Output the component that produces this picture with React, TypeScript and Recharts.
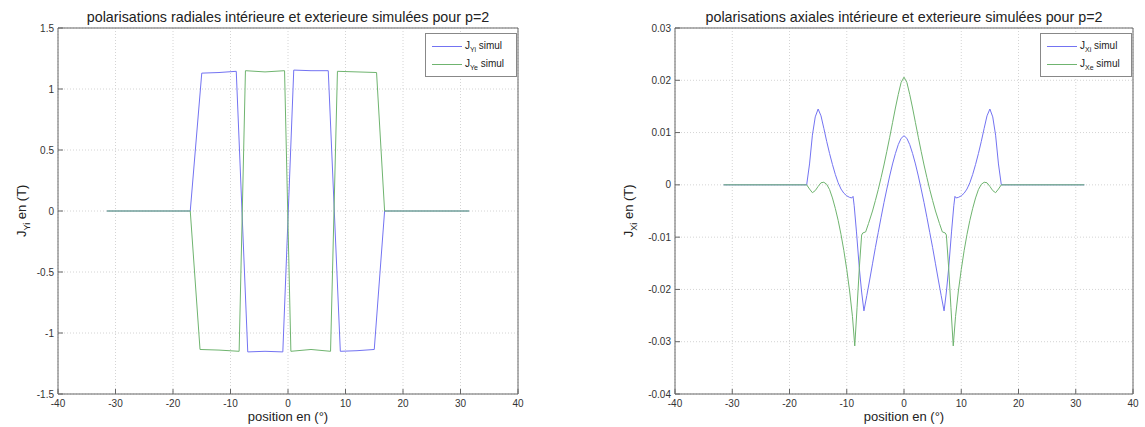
import { CartesianGrid, Line, LineChart, XAxis, YAxis } from "recharts";

// radial polarisation (left plot)
const jyiPos = [-31.5, -17, -15, -12, -9, -7, -4, -0.9, 1, 4, 7, 9.1, 12, 15, 16.8, 31.5];
const jyiVal = [0, 0, 1.13, 1.135, 1.145, -1.155, -1.15, -1.155, 1.155, 1.15, 1.15, -1.15, -1.145, -1.135, 0, 0];
const jyePos = [-31.5, -17, -15.3, -12, -8.5, -7.4, -4, -0.6, 0.5, 4, 7.4, 8.6, 12, 15.4, 16.8, 31.5];
const jyeVal = [0, 0, -1.135, -1.14, -1.15, 1.15, 1.14, 1.15, -1.15, -1.135, -1.15, 1.145, 1.14, 1.135, 0, 0];

// axial polarisation (right plot)
const jxiPos = [
  -31.5, -17, -16.5, -16, -15.5, -15, -14.5, -14, -13.5, -13, -12.5, -12, -11.5, -11, -10.5, -10, -9.5, -9.1,
  -8.9, -8.7, -8.3, -7.8, -7.4, -7, -6.5, -6, -5.5, -5, -4.5, -4, -3.5, -3, -2.5, -2, -1.5, -1, -0.5, 0,
  0.5, 1, 1.5, 2, 2.5, 3, 3.5, 4, 4.5, 5, 5.5, 6, 6.5, 7, 7.4, 7.8, 8.3, 8.7, 8.9, 9.1, 9.5, 10, 10.5, 11,
  11.5, 12, 12.5, 13, 13.5, 14, 14.5, 15, 15.5, 16, 16.5, 17, 31.5,
];
const jxiVal = [
  0, 0, 0.004, 0.0095, 0.013, 0.0145, 0.0132, 0.0108, 0.0083, 0.006, 0.0039, 0.002, 0.0004, -0.0008, -0.0016,
  -0.0021, -0.0024, -0.0025, -0.0022, -0.004, -0.009, -0.016, -0.0205, -0.0241, -0.0212, -0.0182, -0.0151,
  -0.012, -0.0091, -0.0062, -0.0034, -0.0008, 0.0017, 0.004, 0.006, 0.0077, 0.0089, 0.0094,
  0.0089, 0.0077, 0.006, 0.004, 0.0017, -0.0008, -0.0034, -0.0062, -0.0091, -0.012, -0.0151, -0.0182, -0.0212,
  -0.0241, -0.0205, -0.016, -0.009, -0.004, -0.0022, -0.0025, -0.0024, -0.0021, -0.0016, -0.0008, 0.0004,
  0.002, 0.0039, 0.006, 0.0083, 0.0108, 0.0132, 0.0145, 0.013, 0.0095, 0.004, 0, 0,
];
const jxePos = [
  -31.5, -17, -16.5, -16, -15.5, -15, -14.5, -14, -13.5, -13, -12.5, -12, -11.5, -11, -10.5, -10, -9.5, -9,
  -8.6, -8.2, -7.8, -7.4, -7.2, -6.7, -6.2, -5.5, -5, -4.5, -4, -3.5, -3, -2.5, -2, -1.5, -1, -0.5, 0,
  0.5, 1, 1.5, 2, 2.5, 3, 3.5, 4, 4.5, 5, 5.5, 6.2, 6.7, 7.2, 7.4, 7.8, 8.2, 8.6, 9, 9.5, 10, 10.5, 11,
  11.5, 12, 12.5, 13, 13.5, 14, 14.5, 15, 15.5, 16, 16.5, 17, 31.5,
];
const jxeVal = [
  0, 0, -0.0008, -0.0015, -0.0011, -0.0003, 0.0004, 0.0005, 0.0001, -0.0009, -0.0025, -0.0045, -0.0068,
  -0.0095, -0.0126, -0.0162, -0.0203, -0.0252, -0.0308, -0.0235, -0.0158, -0.0096, -0.0092, -0.009, -0.0074,
  -0.005, -0.003, -0.0009, 0.0014, 0.0038, 0.0064, 0.0091, 0.0119, 0.0147, 0.0173, 0.0196, 0.0206,
  0.0196, 0.0173, 0.0147, 0.0119, 0.0091, 0.0064, 0.0038, 0.0014, -0.0009, -0.003, -0.005, -0.0074, -0.009,
  -0.0092, -0.0096, -0.0158, -0.0235, -0.0308, -0.0252, -0.0203, -0.0162, -0.0126, -0.0095, -0.0068, -0.0045,
  -0.0025, -0.0009, 0.0001, 0.0005, 0.0004, -0.0003, -0.0011, -0.0015, -0.0008, 0, 0,
];

const xTicks = [-40, -30, -20, -10, 0, 10, 20, 30, 40];
const yTicksRadial = [-1.5, -1, -0.5, 0, 0.5, 1, 1.5];
const yTicksAxial = [-0.04, -0.03, -0.02, -0.01, 0, 0.01, 0.02, 0.03];

const BLUE = "#7373f2";
const GREEN = "#6fb46f";
const AXIS = "#666";
const FONT = "'Liberation Sans', Arial, sans-serif";

const zip = (p: number[], v: number[]) => p.map((x, i) => ({ p: x, v: v[i] }));

// MATLAB-like inward ticks; with tickSize/tickMargin 0 the x/y given is on the axis line
const TickBottom = (props: any) => {
  const { x, y, payload } = props;
  return (
    <g>
      <line x1={x} x2={x} y1={y} y2={y - 5} stroke={AXIS} />
      <text x={x} y={y + 13} textAnchor="middle" fontSize={10} fill="#333" fontFamily={FONT}>
        {payload.value}
      </text>
    </g>
  );
};
const TickLeft = (props: any) => {
  const { x, y, payload } = props;
  return (
    <g>
      <line x1={x} x2={x + 5} y1={y} y2={y} stroke={AXIS} />
      <text x={x - 4} y={y + 3.5} textAnchor="end" fontSize={10} fill="#333" fontFamily={FONT}>
        {payload.value}
      </text>
    </g>
  );
};
const TickTop = (props: any) => <line x1={props.x} x2={props.x} y1={props.y} y2={props.y + 5} stroke={AXIS} />;
const TickRight = (props: any) => <line x1={props.x} x2={props.x - 5} y1={props.y} y2={props.y} stroke={AXIS} />;

function Panel(props: {
  left: number;
  width: number;
  plotLeft: number;
  plotRight: number;
  yLabelX: number;
  domain: [number, number];
  yTicks: number[];
  series: { data: { p: number; v: number }[]; color: string }[];
  title: string;
  yName: string;
  legend: string[];
}) {
  const { left, width, plotLeft, plotRight, yLabelX, domain, yTicks, series, title, yName, legend } = props;
  const top = 28;
  const bottom = 394;
  const cx = (plotLeft + plotRight) / 2;
  return (
    <div style={{ position: "absolute", left, top: 0, width, height: 427, fontFamily: FONT }}>
      <LineChart
        width={width}
        height={427}
        margin={{ top: top - 1, left: plotLeft - 40, right: width - plotRight - 1, bottom: 427 - bottom - 20 }}
      >
        <CartesianGrid stroke="#d4d4d4" strokeDasharray="1 2" />
        <XAxis
          dataKey="p"
          type="number"
          domain={[-40, 40]}
          ticks={xTicks}
          interval={0}
          height={20}
          tickSize={0}
          tickMargin={0}
          tickLine={false}
          stroke={AXIS}
          tick={<TickBottom />}
        />
        <XAxis
          xAxisId="top"
          orientation="top"
          type="number"
          domain={[-40, 40]}
          ticks={xTicks}
          interval={0}
          height={1}
          tickSize={0}
          tickMargin={0}
          tickLine={false}
          stroke={AXIS}
          tick={<TickTop />}
        />
        <YAxis
          type="number"
          domain={domain}
          ticks={yTicks}
          interval={0}
          width={40}
          tickSize={0}
          tickMargin={0}
          tickLine={false}
          stroke={AXIS}
          tick={<TickLeft />}
        />
        <YAxis
          yAxisId="right"
          orientation="right"
          type="number"
          domain={domain}
          ticks={yTicks}
          interval={0}
          width={1}
          tickSize={0}
          tickMargin={0}
          tickLine={false}
          stroke={AXIS}
          tick={<TickRight />}
        />
        {series.map((s, i) => (
          <Line
            key={i}
            data={s.data}
            dataKey="v"
            type="linear"
            stroke={s.color}
            strokeWidth={1}
            dot={false}
            activeDot={false}
            isAnimationActive={false}
          />
        ))}
      </LineChart>
      <div
        style={{
          position: "absolute",
          top: 9,
          left: cx - 250,
          width: 500,
          textAlign: "center",
          fontSize: 14.3,
          color: "#222",
          whiteSpace: "nowrap",
        }}
      >
        {title}
      </div>
      <div
        style={{
          position: "absolute",
          top: 409,
          left: cx - 100,
          width: 200,
          textAlign: "center",
          fontSize: 13,
          color: "#222",
        }}
      >
        position en (°)
      </div>
      <div
        style={{
          position: "absolute",
          left: yLabelX - 50,
          top: 202,
          width: 100,
          textAlign: "center",
          fontSize: 13,
          color: "#222",
          transform: "rotate(-90deg)",
          whiteSpace: "nowrap",
        }}
      >
        J<sub style={{ fontSize: 9 }}>{yName}</sub> en (T)
      </div>
      <div
        style={{
          position: "absolute",
          left: plotRight - 93,
          top: 33,
          width: 90,
          height: 42,
          border: "1px solid #888",
          background: "#fff",
          fontSize: 10,
          color: "#222",
        }}
      >
        {legend.map((name, i) => (
          <div key={name} style={{ position: "absolute", top: 5 + i * 18, left: 6, height: 14, display: "flex", alignItems: "center" }}>
            <span style={{ display: "inline-block", width: 30, borderTop: `1px solid ${series[i].color}`, marginRight: 3 }} />
            <span>
              J<sub style={{ fontSize: 7 }}>{name}</sub> simul
            </span>
          </div>
        ))}
      </div>
    </div>
  );
}

export default function App() {
  return (
    <div style={{ position: "absolute", left: 0, top: 0, width: 1145, height: 427, background: "#fff" }}>
      <Panel
        left={0}
        width={560}
        plotLeft={58}
        plotRight={518}
        yLabelX={23}
        domain={[-1.5, 1.5]}
        yTicks={yTicksRadial}
        series={[
          { data: zip(jyiPos, jyiVal), color: BLUE },
          { data: zip(jyePos, jyeVal), color: GREEN },
        ]}
        title="polarisations radiales intérieure et exterieure simulées pour p=2"
        yName="Yi"
        legend={["Yi", "Ye"]}
      />
      <Panel
        left={560}
        width={585}
        plotLeft={115}
        plotRight={573}
        yLabelX={70}
        domain={[-0.04, 0.03]}
        yTicks={yTicksAxial}
        series={[
          { data: zip(jxiPos, jxiVal), color: BLUE },
          { data: zip(jxePos, jxeVal), color: GREEN },
        ]}
        title="polarisations axiales intérieure et exterieure simulées pour p=2"
        yName="Xi"
        legend={["Xi", "Xe"]}
      />
    </div>
  );
}
